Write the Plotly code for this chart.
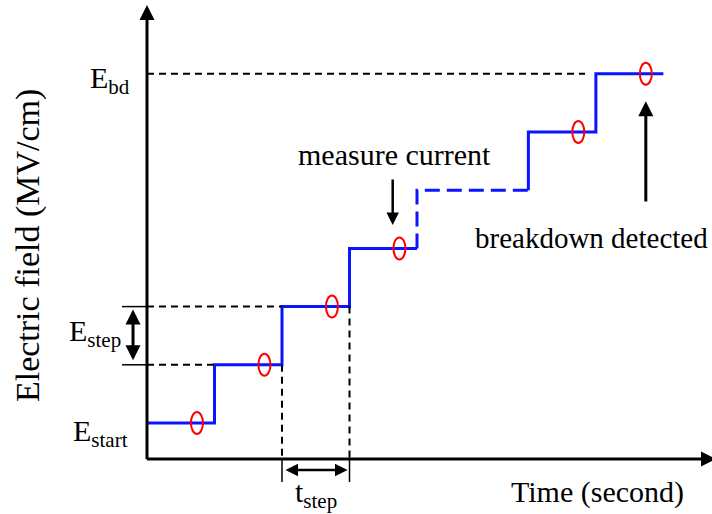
import plotly.graph_objects as go

# Step-stress ramp: time edges in units of t_step, field levels in units of E_step
step_edges = [0, 1, 2, 3, 4, 5.65, 6.65, 7.65]
field_levels = [1, 2, 3, 4, 5, 6, 7]
omitted_step = [False, False, False, False, True, False, False]
measure_frac = 0.74          # current is read near the end of each step
origin_t, origin_E = 0.0, 0.38

BLUE = "#0a14ff"
FONT = "Liberation Serif"

fig = go.Figure()

# --- staircase (solid runs and the dashed, omitted part) ---
def add_run(xs, ys, dashed):
    fig.add_trace(go.Scatter(
        x=xs, y=ys, mode="lines", hoverinfo="skip", showlegend=False,
        line=dict(color=BLUE, width=3, dash="15px,7px" if dashed else "solid"),
    ))

run_x, run_y, run_dash = [], [], None
for i, lvl in enumerate(field_levels):
    x0, x1 = step_edges[i], step_edges[i + 1]
    dashed = omitted_step[i]
    if run_dash is None:
        run_dash = dashed
    if dashed != run_dash:
        add_run(run_x, run_y, run_dash)
        run_x, run_y = [run_x[-1]], [run_y[-1]]
        run_dash = dashed
    run_x += [x0, x1]
    run_y += [lvl, lvl]
add_run(run_x, run_y, run_dash)

# --- measurement markers (red ellipses) on every drawn step ---
for i, lvl in enumerate(field_levels):
    if omitted_step[i]:
        continue
    tm = step_edges[i] + measure_frac * (step_edges[i + 1] - step_edges[i])
    fig.add_shape(type="circle", xref="x", yref="y",
                  xsizemode="pixel", ysizemode="pixel",
                  xanchor=tm, yanchor=lvl, x0=-6, x1=6, y0=-11, y1=11,
                  line=dict(color="red", width=2), fillcolor="rgba(0,0,0,0)")

# --- black dashed guide lines ---
guide = dict(color="black", width=2, dash="7px,5px")
fig.add_shape(type="line", x0=origin_t, x1=step_edges[1], y0=field_levels[1], y1=field_levels[1], line=guide)
fig.add_shape(type="line", x0=origin_t, x1=step_edges[2], y0=field_levels[2], y1=field_levels[2], line=guide)
fig.add_shape(type="line", x0=origin_t, x1=step_edges[6] - 0.16, y0=field_levels[6], y1=field_levels[6], line=guide)
fig.add_shape(type="line", x0=step_edges[2], x1=step_edges[2], y0=field_levels[1], y1=origin_E, line=guide)
fig.add_shape(type="line", x0=step_edges[3], x1=step_edges[3], y0=field_levels[2], y1=origin_E, line=guide)

# --- thin extension ticks for the E_step and t_step dimensions ---
thin = dict(color="black", width=1.5)
for lvl in field_levels[1:3]:
    fig.add_shape(type="line", x0=-0.37, x1=origin_t, y0=lvl, y1=lvl, line=thin)
for te in step_edges[2:4]:
    fig.add_shape(type="line", x0=te, x1=te, y0=origin_E, y1=-0.014, line=thin)

# --- axes drawn as arrows ---
def arrow(xt, yt, xs, ys, width=3, both=False, standoff=0):
    fig.add_annotation(x=xt, y=yt, ax=xs, ay=ys, xref="x", yref="y", axref="x", ayref="y",
                       text="", showarrow=True, arrowhead=2, arrowsize=1, arrowwidth=width,
                       arrowcolor="black", arrowside="end+start" if both else "end",
                       startarrowhead=2, startarrowsize=1,
                       standoff=standoff, startstandoff=standoff)

arrow(origin_t, 8.182, origin_t, origin_E - 0.03)          # field axis
arrow(8.43, origin_E, origin_t - 0.022, origin_E)           # time axis

# dimension arrows
arrow(-0.207, field_levels[2], -0.207, field_levels[1], width=3, both=True, standoff=3)
arrow(step_edges[3], 0.192, step_edges[2], 0.192, width=2.5, both=True, standoff=2)

# callouts
arrow(3.64, 4.40, 3.64, 5.21, width=2.5)
arrow(step_edges[6] + measure_frac, 6.53, step_edges[6] + measure_frac, 4.78, width=3)

# --- text ---
def label(txt, x, y, size=30, xanchor="center", angle=0):
    fig.add_annotation(x=x, y=y, xref="x", yref="y", text=txt, showarrow=False,
                       xanchor=xanchor, yanchor="middle", textangle=angle,
                       font=dict(family=FONT, size=size, color="black"))

label("Electric field (MV/cm)", -1.763, 4.04, size=34, angle=-90)
label("Time (second)", 6.667, -0.186)
label("measure current", 3.66, 5.62)
label("breakdown detected", 4.83, 4.18, size=29, xanchor="left")
label("E<sub>bd</sub>", -0.215, 6.89, xanchor="right")
label("E<sub>step</sub>", -0.35, 2.55, xanchor="right")
label("E<sub>start</sub>", -0.245, 0.83, xanchor="right")
label("t<sub>step</sub>", 2.5, -0.22)

fig.update_xaxes(visible=False, range=[-2.1778, 8.3704], fixedrange=True)
fig.update_yaxes(visible=False, range=[-0.5636, 8.268], fixedrange=True)
fig.update_layout(width=712, height=514, margin=dict(l=0, r=0, t=0, b=0),
                  plot_bgcolor="white", paper_bgcolor="white", showlegend=False)

fig.write_html("out.html")
